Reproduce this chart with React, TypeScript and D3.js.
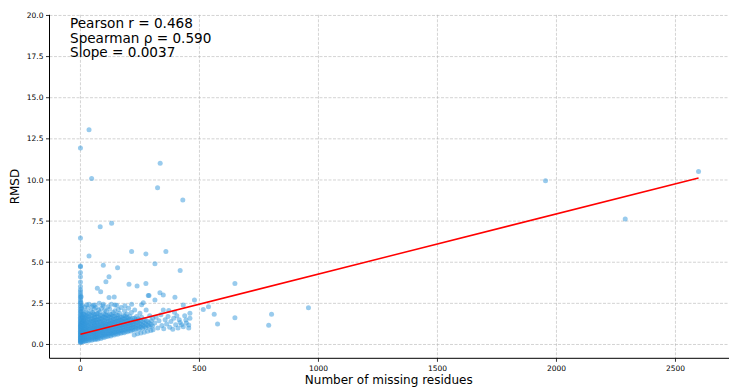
import React from "react";
import * as d3 from "d3";

// x = number of missing residues, y = RMSD
const zeroColumnRmsd: number[] = [0.12,0.17,0.23,0.29,0.34,0.41,0.46,0.52,0.58,0.63,0.7,0.76,0.81,0.88,0.94,1.0,1.06,1.13,1.19,1.26,1.34,1.41,1.49,1.57,1.66,1.75,1.84,1.94,2.03,2.14,2.26,2.37,2.49,2.6,2.72,2.84,2.95,3.07,3.2,3.33,3.52,3.8,4.12,4.38,4.73,4.77,6.48,11.95];

const clusterPoints: [number, number][] = [
[2,0.14],[3,0.27],[1,0.39],[4,0.51],[2,0.64],[5,0.77],[3,0.9],[6,1.03],[2,1.16],[4,1.29],[5,1.45],[3,1.62],[6,1.8],[4,2.0],[5,2.2],[7,0.2],[8,0.33],[6,0.46],[7,0.6],[8,0.73],[7,0.86],[6,0.99],[8,1.12],[7,1.25],[9,1.38],[8,1.55],[9,1.72],[7,2.35],[2,2.55],[3,2.9],
[11,0.16],[12,0.3],[10,0.43],[13,0.56],[11,0.69],[12,0.82],[14,0.96],[10,1.09],[13,1.22],[12,1.36],[14,1.5],[11,1.66],[13,1.84],[12,2.05],[16,0.22],[17,0.36],[15,0.49],[18,0.62],[16,0.76],[17,0.9],[19,1.03],[15,1.17],[18,1.31],[16,1.46],[19,1.62],[17,1.8],[18,2.28],[21,0.19],[22,0.33],[20,0.47],[23,0.6],[21,0.74],[22,0.88],[24,1.01],[20,1.15],[23,1.29],[21,1.44],[24,1.6],[22,1.76],[23,1.98],
[26,0.24],[28,0.38],[27,0.52],[29,0.66],[26,0.8],[28,0.94],[30,1.08],[27,1.22],[29,1.37],[31,1.53],[28,1.7],[30,1.9],[31,2.2],[33,0.21],[35,0.35],[34,0.49],[36,0.63],[33,0.77],[35,0.91],[37,1.05],[34,1.19],[36,1.34],[38,1.5],[35,1.67],[37,1.86],[36,2.45],[40,0.28],[42,0.42],[41,0.56],[43,0.7],[40,0.84],[42,0.98],[44,1.12],[41,1.27],[43,1.42],[45,1.58],[42,1.76],[44,2.02],[47,0.25],[49,0.39],[48,0.53],[50,0.67],[47,0.81],[49,0.95],[51,1.1],[48,1.25],[50,1.4],[52,1.57],[49,1.75],[51,1.95],[48,2.3],[54,0.32],[56,0.46],[55,0.6],[57,0.74],[54,0.88],[56,1.02],[58,1.17],[55,1.32],[57,1.48],[59,1.65],[56,1.85],[58,2.15],[61,0.3],[63,0.44],[62,0.58],[60,0.72],[63,0.86],[61,1.0],[62,1.15],[60,1.3],[63,1.46],[61,1.63],[62,1.82],[60,2.4],
[66,0.35],[68,0.49],[67,0.63],[69,0.77],[66,0.91],[68,1.05],[70,1.2],[67,1.35],[69,1.51],[70,1.68],[68,1.88],[66,2.25],[72,0.32],[74,0.46],[73,0.6],[75,0.75],[72,0.9],[74,1.04],[76,1.19],[73,1.34],[75,1.5],[77,1.67],[74,1.87],[76,2.1],[79,0.4],[81,0.54],[80,0.68],[82,0.83],[79,0.97],[81,1.12],[83,1.27],[80,1.42],[82,1.58],[84,1.76],[81,1.98],[79,2.5],[86,0.37],[88,0.51],[87,0.66],[89,0.8],[86,0.95],[88,1.1],[90,1.25],[87,1.4],[89,1.56],[91,1.74],[88,2.2],[93,0.45],[95,0.59],[94,0.73],[96,0.88],[93,1.02],[95,1.17],[97,1.32],[94,1.48],[96,1.65],[98,1.85],[95,2.35],[100,0.42],[102,0.57],[101,0.71],[103,0.86],[100,1.01],[102,1.16],[104,1.31],[101,1.47],[103,1.64],[105,1.83],[102,2.1],[107,0.5],[109,0.65],[108,0.8],[110,0.95],[107,1.1],[109,1.25],[111,1.41],[108,1.58],[110,1.77],[109,2.02],
[114,0.48],[116,0.63],[115,0.78],[117,0.93],[114,1.08],[116,1.23],[118,1.39],[115,1.56],[117,1.74],[116,2.3],[121,0.55],[123,0.7],[122,0.85],[124,1.0],[121,1.15],[123,1.31],[125,1.47],[122,1.65],[124,1.85],[123,2.15],[128,0.52],[130,0.67],[129,0.82],[131,0.98],[128,1.13],[130,1.29],[132,1.45],[129,1.62],[131,1.82],[130,2.45],[135,0.6],[137,0.75],[136,0.9],[138,1.05],[135,1.21],[137,1.37],[139,1.54],[136,1.72],[138,1.95],[142,0.58],[144,0.73],[143,0.88],[145,1.04],[142,1.2],[144,1.36],[146,1.53],[143,1.71],[145,2.05],[149,0.65],[151,0.8],[150,0.95],[152,1.11],[149,1.27],[151,1.43],[153,1.6],[150,1.8],[152,2.38],[156,0.62],[158,0.78],[157,0.93],[159,1.09],[156,1.25],[158,1.42],[160,1.6],[157,1.78],[159,2.12],
[163,0.7],[165,0.85],[164,1.0],[166,1.16],[163,1.32],[165,1.49],[167,1.67],[164,1.9],[170,0.68],[172,0.83],[171,0.99],[173,1.15],[170,1.31],[172,1.48],[174,1.66],[171,2.25],[177,0.75],[179,0.9],[178,1.06],[180,1.22],[177,1.39],[179,1.56],[181,1.76],[184,0.72],[186,0.88],[185,1.04],[187,1.2],[184,1.37],[186,1.55],[188,1.75],[185,2.05],[191,0.8],[193,0.96],[192,1.12],[194,1.28],[191,1.45],[193,1.63],[195,1.85],[198,0.78],[200,0.94],[199,1.1],[201,1.27],[198,1.44],[200,1.62],[202,2.2],[205,0.85],[207,1.01],[206,1.17],[208,1.34],[205,1.52],[207,1.72],[212,0.82],[214,0.98],[213,1.15],[215,1.32],[212,1.5],[214,1.95],[219,0.9],[221,1.06],[220,1.23],[222,1.41],[219,1.6],
[226,0.58],[227,0.88],[228,1.05],[226,1.22],[229,1.4],[227,1.6],[228,2.1],[233,0.95],[234,1.12],[235,1.3],[233,1.49],[236,1.7],[240,0.65],[241,1.0],[242,1.18],[240,1.37],[243,1.57],[247,0.92],[248,1.1],[249,1.28],[247,1.48],[250,1.9],[254,0.7],[255,1.05],[256,1.23],[254,1.43],[257,1.65],[261,0.98],[262,1.16],[263,1.36],[264,2.54],[268,0.75],[269,1.1],[270,1.3],[268,1.52],[275,1.02],[276,1.22],[277,1.45],[276,2.1],[282,0.8],[283,1.15],[284,1.38],[289,1.08],[290,1.3],[291,1.75],[296,0.85],[297,1.2],[298,1.45],[303,1.12],[304,1.6]
];

const sparsePoints: [number, number][] = [
[305,0.9],[312,1.3],[318,1.65],[325,1.0],[330,1.45],[338,1.8],[342,1.15],[350,0.95],[356,1.5],[362,1.25],[368,1.7],[375,1.05],[380,1.4],[388,0.92],[392,1.6],[400,1.2],[405,1.75],[410,1.0],[415,1.5],[425,1.2],[438,1.75],[445,1.3],[460,1.6],[460,1.9],
[334,3.15],[348,3.01],[348,2.1],[371,2.06],[395,1.96],[443,1.49],[455,1.19],[455,1.0],[419,1.33],[432,1.08],[432,2.4],[397,2.87],[313,2.71],[288,2.97],[479,2.71],[516,2.12],[538,2.3],[562,1.84],[576,1.25],[649,1.63],[649,3.7],[791,1.17],[803,1.84],[958,2.24],
[26,2.42],[54,2.38],[96,2.44],[145,2.4],[187,2.36],[215,2.45],[257,2.42],[120,2.85],[142,2.89],[71,3.42],[85,3.21],[107,3.82],[120,4.12],[204,3.66],[238,3.56],[275,3.7],[285,2.97]
];

const outlierPoints: [number, number][] = [
[36,5.38],[96,4.82],[156,4.67],[215,5.65],[275,5.5],[359,5.65],[313,4.9],[419,4.49],[83,7.15],[131,7.37],[430,8.79],[324,9.52],[335,11.02],[47,10.09],[36,13.05],[1954,9.95],[2289,7.63],[2597,10.51]
];

const statLines: string[] = ["Pearson r = 0.468", "Spearman \u03c1 = 0.590", "Slope = 0.0037"];
const xTicks: number[] = [0, 500, 1000, 1500, 2000, 2500];
const yTicks: number[] = [0, 2.5, 5, 7.5, 10, 12.5, 15, 17.5, 20];
const fitSlope = 0.00366;
const fitIntercept = 0.62;
const fitRange: [number, number] = [0, 2597];

const W = 729, H = 387;
const left = 49.5, right = 730.2, top = 14.8, bottom = 358.3;

export default function App() {
  const x = d3.scaleLinear().domain([-130, 2730]).range([left, right]);
  const y = d3.scaleLinear().domain([-0.84, 20.04]).range([bottom, top]);
  const allPoints: [number, number][] = [
    ...zeroColumnRmsd.map((v) => [0, v] as [number, number]),
    ...clusterPoints,
    ...sparsePoints,
    ...outlierPoints,
  ];
  const fitLine = d3.line<number>().x((d) => x(d)).y((d) => y(fitIntercept + fitSlope * d));
  const font = "DejaVu Sans, sans-serif";
  return (
    <svg width={W} height={H} style={{ position: "absolute", left: 0, top: 0, background: "#fff" }}>
      <rect x={0} y={0} width={W} height={H} fill="#fff" />
      <g>
        {xTicks.map((t) => (
          <line key={"gx" + t} x1={x(t)} x2={x(t)} y1={top} y2={bottom} stroke="#b0b0b0" strokeOpacity={0.7} strokeWidth={0.8} strokeDasharray="3,1.5" />
        ))}
        {yTicks.map((t) => (
          <line key={"gy" + t} x1={left} x2={W} y1={y(t)} y2={y(t)} stroke="#b0b0b0" strokeOpacity={0.7} strokeWidth={0.8} strokeDasharray="3,1.5" />
        ))}
      </g>
      <g>
        {allPoints.map((p, i) => (
          <circle key={i} cx={x(p[0])} cy={y(p[1])} r={2.5} fill="#3498db" fillOpacity={0.5} />
        ))}
      </g>
      <path d={fitLine(fitRange) || ""} stroke="#ff0000" strokeWidth={1.5} fill="none" />
      <line x1={left} x2={left} y1={top} y2={bottom} stroke="#000" strokeWidth={1} />
      <line x1={left} x2={W} y1={bottom} y2={bottom} stroke="#000" strokeWidth={1} />
      {xTicks.map((t) => (
        <g key={"tx" + t}>
          <line x1={x(t)} x2={x(t)} y1={bottom} y2={bottom + 3.5} stroke="#000" strokeWidth={0.8} />
          <text x={x(t)} y={bottom + 12.5} textAnchor="middle" fontSize={7.5} fontFamily={font} fill="#000">{t}</text>
        </g>
      ))}
      {yTicks.map((t) => (
        <g key={"ty" + t}>
          <line x1={left - 3.5} x2={left} y1={y(t)} y2={y(t)} stroke="#000" strokeWidth={0.8} />
          <text x={left - 6} y={y(t)} dy="0.35em" textAnchor="end" fontSize={7.5} fontFamily={font} fill="#000">{t.toFixed(1)}</text>
        </g>
      ))}
      <text x={(left + 728) / 2} y={384} textAnchor="middle" fontSize={12} fontFamily={font} fill="#000">Number of missing residues</text>
      <text transform={`translate(19,${(top + bottom) / 2}) rotate(-90)`} textAnchor="middle" fontSize={12} fontFamily={font} fill="#000">RMSD</text>
      {statLines.map((s, i) => (
        <text key={s} x={70} y={28.3 + i * 14.5} fontSize={13.6} fontFamily={font} fill="#000">{s}</text>
      ))}
    </svg>
  );
}
